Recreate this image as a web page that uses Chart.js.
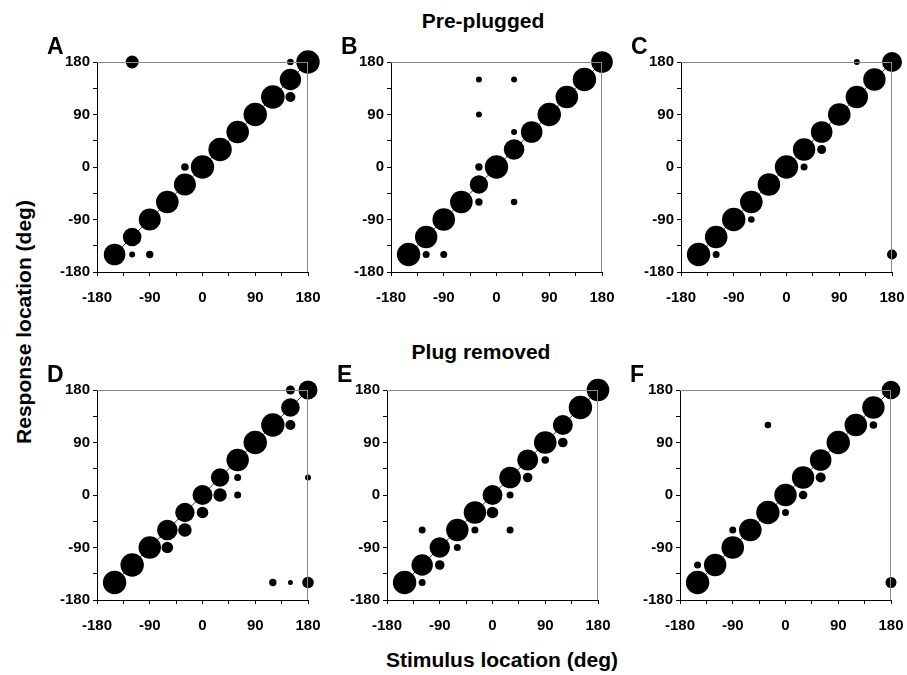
<!DOCTYPE html>
<html>
<head>
<meta charset="utf-8">
<script src="https://cdn.jsdelivr.net/npm/chart.js@4/dist/chart.umd.min.js"></script>
<style>
  html, body { margin:0; padding:0; background:#fff; }
  body { width:907px; height:675px; position:relative; overflow:hidden; font-family:"Liberation Sans", Arial, sans-serif; }
  canvas { position:absolute; }
  .t { position:absolute; font-weight:bold; color:#000; white-space:nowrap; line-height:1; }
</style>
</head>
<body>
<div class="t" style="left:483px; top:20px; font-size:21px; transform:translate(-50%,-50%);">Pre-plugged</div>
<div class="t" style="left:481px; top:351px; font-size:21px; transform:translate(-50%,-50%);">Plug removed</div>
<div class="t" style="left:502px; top:659px; font-size:21px; transform:translate(-50%,-50%);">Stimulus location (deg)</div>
<div class="t" style="left:23px; top:322px; font-size:21px; transform:translate(-50%,-50%) rotate(-90deg);">Response location (deg)</div>

<script>
// ---- data ----
const stimulus = [-150, -120, -90, -60, -30, 0, 30, 60, 90, 120, 150, 180];
const tickLabels = [-180, -90, 0, 90, 180];
const panelLetters = ['A', 'B', 'C', 'D', 'E', 'F'];

// radius of the on-diagonal (correct response) bubbles, per stimulus location
const sizeA = [10.8, 9.3, 11, 11.3, 11, 11.7, 11.7, 11.3, 11.7, 11.8, 10.7, 11.7];
const sizeB = [11.7, 11.2, 11.3, 11.3, 9.2, 11.7, 10.3, 10.8, 11.7, 11.3, 11.7, 10.8];
const sizeC = [11.7, 11.3, 11.7, 11.3, 11.3, 11.7, 11.2, 10.8, 11.3, 11.2, 11.2, 10];
const sizeD = [11.7, 11.7, 11.2, 10.3, 9.7, 10, 9.2, 11.2, 11.7, 11.7, 9.3, 9.5];
const sizeE = [11.7, 10.7, 10.2, 11.2, 11.2, 10, 10.8, 10.5, 11.3, 10, 11.7, 11.3];
const sizeF = [11.7, 11.2, 11.3, 11.3, 11.7, 11.2, 11.2, 10.8, 11.7, 11.3, 11.2, 9.3];

// off-diagonal responses: [stimulus, response, radius]
const extraA = [[-120,180,6.5],[150,180,3.3],[150,120,5],[-30,0,3.8],[-120,-150,3],[-90,-150,3.7]];
const extraB = [[-30,150,3],[30,150,3],[-30,90,3],[30,60,3],[-30,0,3.7],[-30,-60,3.7],[30,-60,3.3],[-120,-150,3.5],[-90,-150,3.5]];
const extraC = [[120,180,3],[180,-150,5],[60,30,4.5],[30,0,3.5],[-60,-90,3.3],[-120,-150,3.5]];
const extraD = [[-60,-90,5.8],[-30,-60,6.8],[0,-30,5.8],[30,0,6.7],[60,30,3.5],[60,0,3.5],[150,120,5],[150,180,4.5],[180,30,3],[120,-150,3.7],[150,-150,2.5],[180,-150,5.8]];
const extraE = [[-120,-60,3.5],[-120,-150,3.5],[-90,-120,4.8],[-60,-90,3.5],[-30,-60,3.5],[0,-30,5.8],[30,0,3.5],[30,-60,3.5],[60,30,4.8],[90,60,3.8],[120,90,4.8]];
const extraF = [[-150,-120,3.5],[-90,-60,3.5],[-30,120,3.3],[0,-30,3.5],[30,0,4.3],[60,30,5],[150,120,3.8],[180,-150,5.5]];

const sizes = [sizeA, sizeB, sizeC, sizeD, sizeE, sizeF];
const extras = [extraA, extraB, extraC, extraD, extraE, extraF];

// ---- layout ----
const plotPos = [[97,62],[391,62],[681,62],[97,390],[387,390],[680,390]];
const PW = 211, PH = 210, LEFT = 50, TOP = 12, RIGHT = 20, BOTTOM = 42;

const framePlugin = {
  id: 'frame',
  afterDatasetsDraw(chart) {
    const a = chart.chartArea, c = chart.ctx;
    c.save();
    c.strokeStyle = '#8a8a8a';
    c.lineWidth = 1;
    c.beginPath();
    c.moveTo(a.left, a.top + 0.5); c.lineTo(a.right, a.top + 0.5);
    c.moveTo(a.right - 0.5, a.top); c.lineTo(a.right - 0.5, a.bottom);
    c.stroke();
    c.restore();
  }
};

function axis(pos) {
  return {
    type: 'linear', position: pos, min: -180, max: 180,
    afterBuildTicks(s) { s.ticks = [-180,-135,-90,-45,0,45,90,135,180].map(v => ({value: v})); },
    ticks: {
      autoSkip: false, maxRotation: 0, color: '#000',
      font: { family: '"Liberation Sans", Arial, sans-serif', size: 15, weight: 'bold' },
      padding: pos === 'left' ? 3 : 13,
      callback: v => tickLabels.includes(v) ? String(v) : ''
    },
    grid: { drawOnChartArea: false, tickLength: 4, color: '#000', tickColor: '#000', lineWidth: 1 },
    border: { color: '#000', width: 1 },
    afterFit(s) {
      if (pos === 'left') { s.width = LEFT; s.paddingTop = 0; s.paddingBottom = 0; }
      else { s.height = BOTTOM; s.paddingLeft = 0; s.paddingRight = 0; }
    }
  };
}

panelLetters.forEach((letter, i) => {
  const [px, py] = plotPos[i];
  const cv = document.createElement('canvas');
  const W = PW + LEFT + RIGHT, H = PH + TOP + BOTTOM;
  cv.width = W; cv.height = H;
  cv.style.left = (px - LEFT) + 'px';
  cv.style.top = (py - TOP) + 'px';
  cv.style.width = W + 'px'; cv.style.height = H + 'px';
  document.body.appendChild(cv);

  const lab = document.createElement('div');
  lab.className = 't';
  lab.textContent = letter;
  lab.style.fontSize = '23px';
  lab.style.left = (px - 50) + 'px';
  lab.style.top = (py - 27) + 'px';
  document.body.appendChild(lab);

  const diag = stimulus.map((s, k) => ({ x: s, y: s, r: sizes[i][k] }));
  const off = extras[i].map(p => ({ x: p[0], y: p[1], r: p[2] }));

  new Chart(cv, {
    data: {
      datasets: [
        { type: 'line', data: stimulus.map(s => ({x: s, y: s})), borderColor: '#000', borderWidth: 0.8, pointRadius: 0, order: 3, clip: false },
        { type: 'bubble', data: diag, backgroundColor: '#000', borderWidth: 0, hoverRadius: 0, order: 1, clip: false },
        { type: 'bubble', data: off, backgroundColor: '#000', borderWidth: 0, hoverRadius: 0, order: 2, clip: false }
      ]
    },
    options: {
      responsive: false, animation: false, devicePixelRatio: 1,
      layout: { padding: { top: TOP, right: RIGHT, left: 0, bottom: 0 } },
      plugins: { legend: { display: false }, tooltip: { enabled: false } },
      events: [],
      scales: { x: axis('bottom'), y: axis('left') }
    },
    plugins: [framePlugin]
  });
});
</script>
</body>
</html>
